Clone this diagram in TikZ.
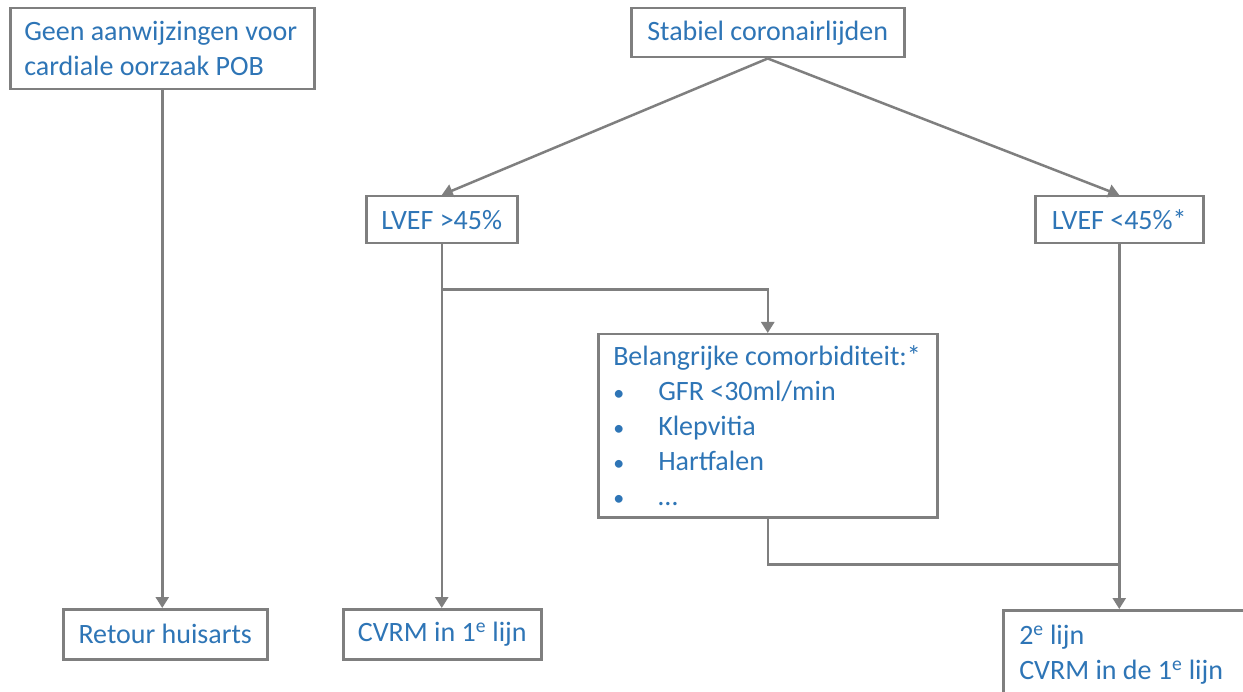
\documentclass[tikz,border=0pt]{standalone}
\usepackage{fontspec}
\setmainfont{Carlito}
\usetikzlibrary{arrows.meta}
\definecolor{tekst}{HTML}{2E75B6}
\definecolor{lijn}{HTML}{7F7F7F}
\newcommand{\punt}{\makebox[45pt][l]{\fontsize{22}{22}\selectfont •}}
\begin{document}
\begin{tikzpicture}[x=1pt,y=-1pt,
  box/.style={draw=lijn,line width=2.5pt,fill=white,text=tekst,
    font=\fontsize{28}{35}\selectfont,anchor=north west,inner sep=0pt,align=center},
  pijl/.style={draw=lijn,line width=2.5pt,-{Triangle[length=11pt,width=13pt]}},
  verbind/.style={draw=lijn,line width=2.5pt}]
\path[use as bounding box,fill=white] (0,0) rectangle (1243,692);

\node [box,minimum width=304pt,minimum height=81pt,text width=276pt,align=flush left] (geen) at (9,7)
  {Geen aanwijzingen voor\\cardiale oorzaak POB};
\node [box,minimum width=273pt,minimum height=49pt] (stabiel) at (630,7) {Stabiel coronairlijden};
\node [box,minimum width=151pt,minimum height=47pt] (lvefhi) at (365,195) {LVEF >45\%};
\node [box,minimum width=168pt,minimum height=47pt] (lveflo) at (1034,195) {LVEF <45\%*};
\node [box,minimum width=339pt,minimum height=183pt,text width=309pt,align=flush left] (belang) at (597,333)
  {Belangrijke comorbiditeit:*\\
   \punt GFR <30ml/min\\
   \punt Klepvitia\\
   \punt Hartfalen\\
   \punt …};
\node [box,minimum width=204pt,minimum height=50pt] (retour) at (62,608) {Retour huisarts};
\node [box,minimum width=198pt,minimum height=50pt] (cvrm) at (342,608) {CVRM in 1\textsuperscript{e} lijn};
\node [box,minimum width=250pt,minimum height=88pt,text width=218pt,align=flush left] (twee) at (1002,609)
  {2\textsuperscript{e} lijn\\CVRM in de 1\textsuperscript{e} lijn};

\coordinate (splits) at ([yshift=-45pt]lvefhi.south);
\coordinate (samen) at ([yshift=-46pt]belang.south);

\draw[pijl] (stabiel.south) -- (lvefhi.north);
\draw[pijl] (stabiel.south) -- (lveflo.north);
\draw[pijl] (geen.south) -- (geen.south |- retour.north);
\draw[pijl] (lvefhi.south) -- (lvefhi.south |- cvrm.north);
\draw[pijl] (splits) -| (belang.north);
\draw[pijl] (lveflo.south) -- (lveflo.south |- twee.north);
\draw[verbind] (belang.south) -- (samen) -- (samen -| lveflo.south);
\end{tikzpicture}
\end{document}
